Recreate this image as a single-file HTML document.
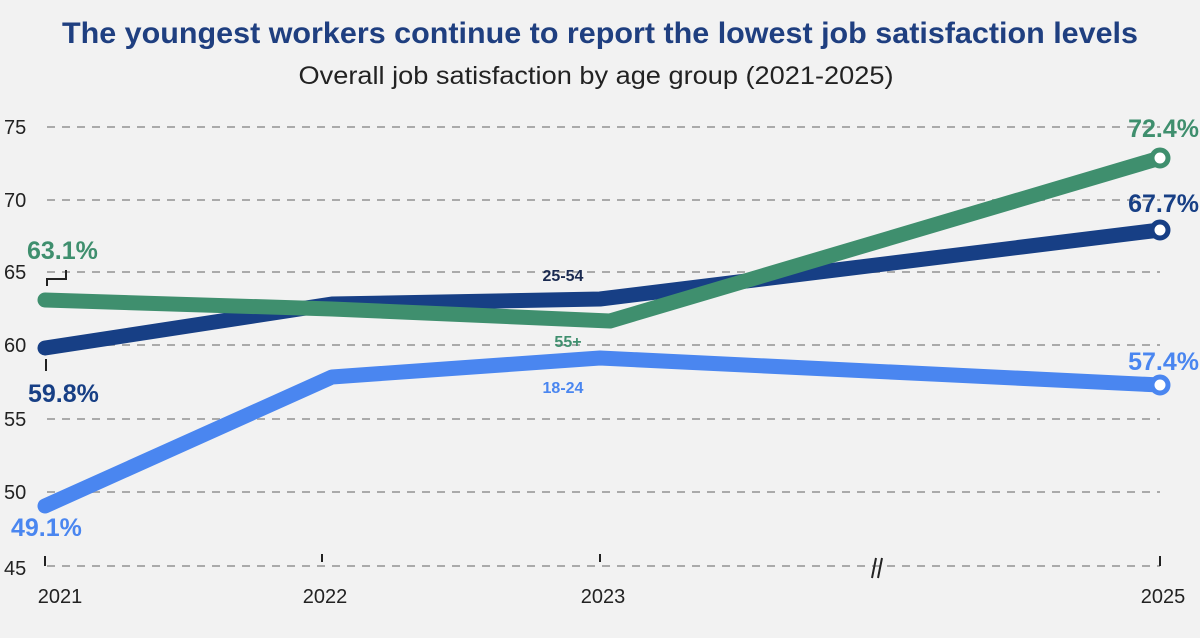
<!DOCTYPE html>
<html><head><meta charset="utf-8"><style>
html,body{margin:0;padding:0;background:#f2f2f2;}
svg{display:block;font-family:"Liberation Sans",sans-serif;}
</style></head><body>
<svg width="1200" height="638" viewBox="0 0 1200 638">
<rect width="1200" height="638" fill="#f2f2f2"/>
<text x="600" y="43" text-anchor="middle" font-size="30" font-weight="bold" fill="#1f3f80" textLength="1076" lengthAdjust="spacingAndGlyphs">The youngest workers continue to report the lowest job satisfaction levels</text>
<text x="596" y="84" text-anchor="middle" font-size="25" fill="#222" textLength="595" lengthAdjust="spacingAndGlyphs">Overall job satisfaction by age group (2021-2025)</text>
<g stroke="#aaa" stroke-width="2" stroke-dasharray="8 7">
<line x1="47" y1="127" x2="1160" y2="127"/>
<line x1="47" y1="200" x2="1160" y2="200"/>
<line x1="47" y1="272" x2="1160" y2="272"/>
<line x1="47" y1="345" x2="1160" y2="345"/>
<line x1="47" y1="419" x2="1160" y2="419"/>
<line x1="47" y1="492" x2="1160" y2="492"/>
<line x1="47" y1="566" x2="1160" y2="566"/>
</g>
<g font-size="20" fill="#222">
<text x="4" y="134">75</text><text x="4" y="207">70</text><text x="4" y="279">65</text><text x="4" y="352">60</text><text x="4" y="426">55</text><text x="4" y="499">50</text><text x="4" y="575">45</text>
</g>
<g stroke="#222" stroke-width="2">
<line x1="45" y1="556" x2="45" y2="566"/><line x1="322" y1="554" x2="322" y2="562"/><line x1="600" y1="554" x2="600" y2="562"/><line x1="1160" y1="556" x2="1160" y2="566"/>
<line x1="876" y1="558" x2="872" y2="578"/><line x1="882" y1="558" x2="878" y2="578"/>
</g>
<g font-size="20" fill="#222" text-anchor="middle">
<text x="60" y="603">2021</text><text x="325" y="603">2022</text><text x="603" y="603">2023</text><text x="1163" y="603">2025</text>
</g>
<g fill="none" stroke-width="15" stroke-linecap="round" stroke-linejoin="round">
<polyline stroke="#4a86f0" points="45,506 332,377 600,358 1160,385"/>
<polyline stroke="#173f85" points="45,348 332,304 600,299 1160,230"/>
<polyline stroke="#3f8f6e" points="45,300 332,309 610,321 1160,158"/>
</g>
<circle cx="1160" cy="158" r="8" fill="#fff" stroke="#3f8f6e" stroke-width="5"/>
<circle cx="1160" cy="230" r="8" fill="#fff" stroke="#173f85" stroke-width="5"/>
<circle cx="1160" cy="385" r="8" fill="#fff" stroke="#4a86f0" stroke-width="5"/>
<g stroke="#222" stroke-width="2" fill="none">
<polyline points="47,286 47,279 66,279 66,270"/>
<line x1="46" y1="359" x2="46" y2="371"/>
</g>
<g font-size="25" font-weight="bold">
<text x="27" y="259" fill="#3f8f6e">63.1%</text>
<text x="28" y="402" fill="#173f85">59.8%</text>
<text x="11" y="536" fill="#4a86f0">49.1%</text>
<text x="1199" y="137" fill="#3f8f6e" text-anchor="end">72.4%</text>
<text x="1199" y="212" fill="#173f85" text-anchor="end">67.7%</text>
<text x="1199" y="370" fill="#4a86f0" text-anchor="end">57.4%</text>
</g>
<g font-size="16" font-weight="bold" text-anchor="middle">
<text x="563" y="281" fill="#1a2a50">25-54</text>
<text x="568" y="347" fill="#3f8f6e">55+</text>
<text x="563" y="393" fill="#4a86f0">18-24</text>
</g>
</svg>
</body></html>
